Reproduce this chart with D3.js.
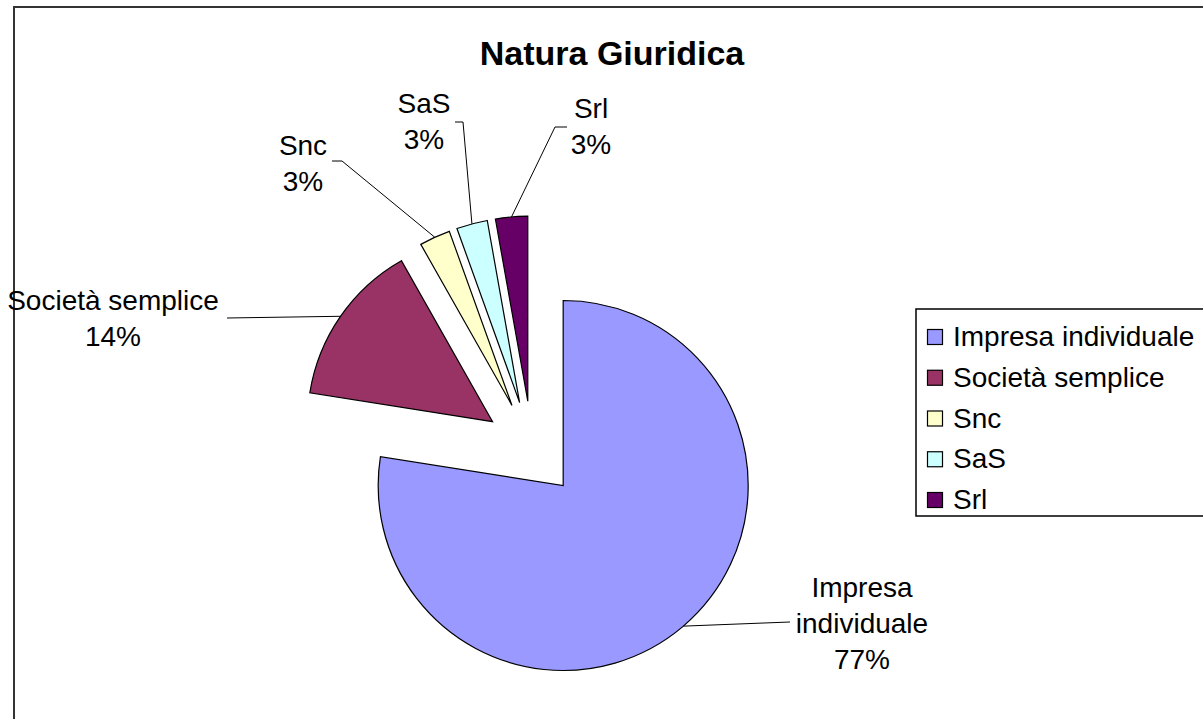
<!DOCTYPE html>
<html><head><meta charset="utf-8">
<script src="https://cdn.jsdelivr.net/npm/d3@7/dist/d3.min.js"></script>
<style>html,body{margin:0;padding:0;background:#fff;overflow:hidden}text{font-family:"Liberation Sans",Arial,sans-serif}</style>
</head><body><svg id="c" width="1203" height="719"></svg>
<script>
const categories = ["Impresa individuale","Società semplice","Snc","SaS","Srl"];
const values = [77.49, 14.31, 2.7, 2.7, 2.8];
const colors = ["#9999FF","#993366","#FFFFCC","#CCFFFF","#660066"];
const labelLines = [["Impresa","individuale"],["Società semplice"],["Snc"],["SaS"],["Srl"]];
const title = "Natura Giuridica";

// layout for data labels (text centre x, first baseline y, leader elbow points)
const labelLayout = [
  {x:862, y:597, leader:[[790,622]]},
  {x:113, y:310, leader:[[227,318]]},
  {x:303, y:155, leader:[[332,161],[342,161]]},
  {x:424, y:113, leader:[[455,122],[463,122]]},
  {x:591, y:118, leader:[[567,127],[555,127]]}
];

const svg = d3.select("#c");
svg.append("rect").attr("x",14).attr("y",7).attr("width",1400).attr("height",900)
  .attr("fill","#fff").attr("stroke","#333").attr("stroke-width",2);

svg.append("text").attr("x",612).attr("y",65).attr("text-anchor","middle")
  .attr("font-size",34).attr("font-weight","bold").text(title);

const cx=532, cy=449, r=185, explode=48;
const total = d3.sum(values);
const pie = d3.pie().sort(null).value(d=>d).startAngle(0).endAngle(2*Math.PI);
const arcs = pie(values);
const arc = d3.arc().innerRadius(0).outerRadius(r);

const g = svg.append("g").attr("transform",`translate(${cx},${cy})`);
arcs.forEach((a,i)=>{
  const mid=(a.startAngle+a.endAngle)/2;
  a.ox = explode*Math.sin(mid); a.oy = -explode*Math.cos(mid);
  a.mid = mid;
  g.append("path").attr("d",arc(a)).attr("transform",`translate(${a.ox},${a.oy})`)
    .attr("fill",colors[i]).attr("stroke","#000").attr("stroke-width",1.2).attr("stroke-linejoin","miter");
});

// leader lines and labels
const lineH = 36;
arcs.forEach((a,i)=>{
  const L = labelLayout[i];
  const px = cx + a.ox + r*Math.sin(a.mid), py = cy + a.oy - r*Math.cos(a.mid);
  const pts = L.leader.concat([[px,py]]);
  svg.append("path").attr("d",d3.line()(pts)).attr("fill","none").attr("stroke","#000").attr("stroke-width",1);
  const lines = labelLines[i].concat([Math.round(values[i]/total*100)+"%"]);
  const t = svg.append("text").attr("text-anchor","middle").attr("font-size",28).attr("fill","#000");
  lines.forEach((s,k)=>{
    t.append("tspan").attr("x",L.x).attr("y",L.y+k*lineH).text(s);
  });
});

// legend
const lg = svg.append("g");
lg.append("rect").attr("x",916).attr("y",309).attr("width",400).attr("height",207)
  .attr("fill","#fff").attr("stroke","#000").attr("stroke-width",1.5);
const ly = d3.scalePoint().domain(categories).range([337,500]);
categories.forEach((c,i)=>{
  const y=ly(c);
  lg.append("rect").attr("x",927.5).attr("y",y-7.5).attr("width",15).attr("height",15)
    .attr("fill",colors[i]).attr("stroke","#000").attr("stroke-width",1.2);
  lg.append("text").attr("x",953).attr("y",y+9).attr("font-size",28).text(c);
});
</script></body></html>
